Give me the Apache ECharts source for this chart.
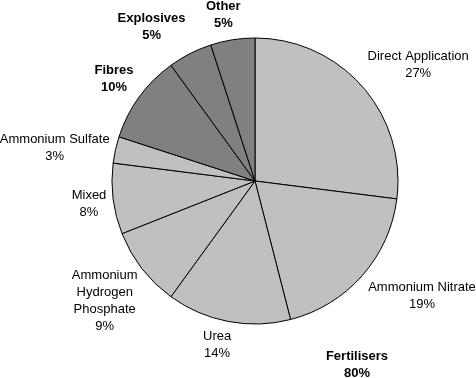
<!DOCTYPE html>
<html>
<head>
<meta charset="utf-8">
<script src="https://cdn.jsdelivr.net/npm/echarts@6/dist/echarts.min.js"></script>
<style>
  html, body { margin: 0; padding: 0; background: #fff; }
  #chart { width: 476px; height: 378px; }
</style>
</head>
<body>
<div id="chart"></div>
<script>
// slices, clockwise from 12 o'clock
var names = ['Direct Application', 'Ammonium Nitrate', 'Urea',
  'Ammonium\nHydrogen\nPhosphate', 'Mixed', 'Ammonium Sulfate',
  'Fibres', 'Explosives', 'Other'];
var values = [27, 19, 14, 9, 8, 3, 10, 5, 5];
var isFertiliser = [true, true, true, true, true, true, false, false, false];
var groupLabel = 'Fertilisers';
var groupValue = 80;

// small hand nudges of the labels (px), like dragged labels in the original
var labelNudge = [[13, 16], [15, -19], [-6, -3], [6, -1], [3, 2], [3, 12], [2, 2], [-21, 8], [-5, 2]];

var cx = 255, cy = 181, r = 143;
var total = values.reduce(function (a, b) { return a + b; }, 0);

// mid angle (radians, clockwise from top) of each slice
function midAngle(i) {
  var before = 0;
  for (var k = 0; k < i; k++) before += values[k];
  return (before + values[i] / 2) / total * Math.PI * 2;
}

var chart = echarts.init(document.getElementById('chart'));
chart.setOption({
  backgroundColor: '#fff',
  animation: false,
  textStyle: { fontFamily: 'Liberation Sans, Arial, sans-serif' },
  series: [{
    type: 'pie',
    center: [cx, cy],
    radius: r,
    startAngle: 90,
    clockwise: true,
    silent: true,
    data: names.map(function (n, i) {
      return {
        name: n,
        value: values[i],
        itemStyle: { color: isFertiliser[i] ? '#c0c0c0' : '#808080' },
        label: { fontWeight: isFertiliser[i] ? 'normal' : 'bold' }
      };
    }),
    itemStyle: { borderColor: '#000', borderWidth: 1 },
    label: {
      show: true,
      position: 'outside',
      color: '#000',
      fontSize: 13,
      lineHeight: 17,
      align: 'center',
      overflow: 'none',
      formatter: function (p) { return p.name + '\n' + p.value + '%'; }
    },
    labelLine: { show: false },
    labelLayout: function (p) {
      var a = midAngle(p.dataIndex);
      var dx = Math.sin(a), dy = -Math.cos(a);
      var w = p.labelRect.width, h = p.labelRect.height;
      var d = r + 8 + Math.abs(dx) * w / 2 + Math.abs(dy) * h / 2;
      var n = labelNudge[p.dataIndex];
      return {
        x: cx + dx * d + n[0],
        y: cy + dy * d + n[1],
        align: 'center',
        verticalAlign: 'middle'
      };
    }
  }],
  graphic: [{
    type: 'text',
    x: 357,
    y: 348,
    style: {
      text: groupLabel + '\n' + groupValue + '%',
      fill: '#000',
      font: 'bold 13px Liberation Sans, Arial, sans-serif',
      lineHeight: 17,
      align: 'center',
      verticalAlign: 'top'
    }
  }]
});
</script>
</body>
</html>
